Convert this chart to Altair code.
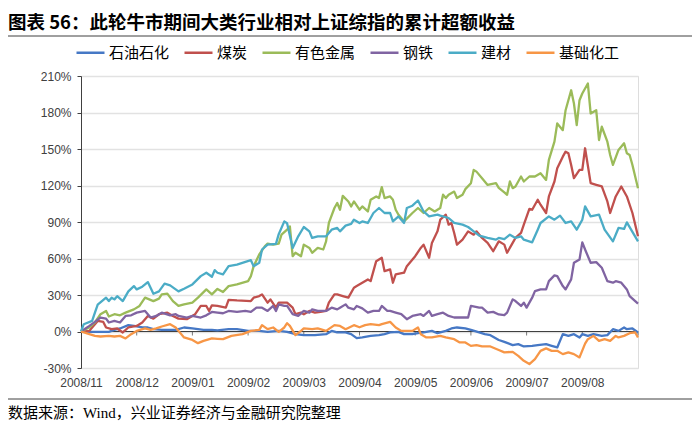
import json
import pandas as pd
import altair as alt

title_text = "图表 56：此轮牛市期间大类行业相对上证综指的累计超额收益"
source_text = "数据来源：Wind，兴业证券经济与金融研究院整理"

series_names = ["石油石化", "煤炭", "有色金属", "钢铁", "建材", "基础化工"]
series_colors = ["#4678C5", "#C0504D", "#9BBB59", "#8064A2", "#4BACC6", "#F79646"]

month_labels = ["2008/11", "2008/12", "2009/01", "2009/02", "2009/03",
                "2009/04", "2009/05", "2009/06", "2009/07", "2009/08"]
label_days = [0, 20, 40, 60, 80, 100, 120, 140, 160, 180]
tick_days = [20, 40, 60, 80, 100, 120, 140, 160, 180, 200]
y_ticks = [-30, 0, 30, 60, 90, 120, 150, 180, 210]

# trading-day index and cumulative excess return (%)
oil_days = [0, 4, 7, 10, 12, 14, 17, 19, 22, 24, 26, 29, 31, 34, 37, 40, 42, 44, 47, 49, 53, 56, 60, 64, 67, 71, 74, 77, 80, 84, 88, 90, 92, 95, 97, 99, 101, 104, 107, 109, 111, 114, 116, 119, 121, 123, 126, 128, 131, 133, 135, 138, 140, 143, 145, 147, 150, 152, 155, 157, 159, 162, 164, 167, 169, 171, 173, 175, 177, 179, 180, 182, 184, 187, 189, 191, 193, 195, 196, 198, 200]
oil_vals = [0, -0.3, -0.3, -0.3, 1.3, 2.5, 5.2, 4.6, 3.3, 3.3, 1.9, 1.3, 1.3, 1.3, 3.3, 2.5, 1.9, 1.3, 1.3, 1.0, 1.9, 1.9, 0.5, 0.5, -0.3, 0.5, -0.3, -2.2, -3, -3, -2.2, 0.5, -0.8, -0.8, -2.2, -5.5, -4.9, -3.6, -3, -2.2, -0.8, -0.3, -2.2, -2.2, -1.4, -0.8, 0.5, -1.4, 0.5, 2.5, 3.3, 2.5, 1.3, -0.8, -2.2, -3, -7.0, -8.5, -11.2, -10.4, -12.3, -11.8, -11.2, -10.4, -11.8, -13.1, -2.2, -3.6, -2.2, -4.9, -2.2, -3.6, -2.2, -3.6, -3, 1.9, 0.5, 3.3, 1.9, 2.5, -0.8]

coal_days = [0, 3, 4, 6, 8, 9, 11, 13, 15, 17, 20, 22, 24, 26, 28, 31, 33, 35, 38, 41, 43, 45, 46, 47, 49, 52, 53, 56, 61, 62, 64, 65, 67, 68, 70, 71, 74, 76, 77, 79, 80, 82, 84, 86, 88, 89, 91, 92, 94, 96, 98, 99, 101, 103, 104, 106, 108, 109, 111, 112, 113, 116, 117, 120, 122, 123, 125, 126, 128, 129, 131, 132, 133, 134, 135, 137, 139, 141, 142, 144, 146, 148, 150, 152, 153, 155, 156, 158, 159, 161, 162, 164, 165, 167, 168, 170, 171, 173, 174, 175, 176, 177, 179, 180, 181, 183, 185, 187, 189, 190, 192, 194, 196, 198, 200]
coal_vals = [0, 0.5, 3.3, 8.7, 7.9, 3.3, 1.9, 2.5, -0.8, 3.3, 4.6, 7.4, 12.8, 10.6, 14.2, 15.5, 12.8, 10.6, 10.1, 14.2, 21, 21, 16.9, 21.5, 21, 19.6, 26, 25.5, 25, 27.8, 29.1, 30.5, 23.7, 26.4, 19.6, 23.7, 23.7, 19.6, 14.2, 15.5, 14.2, 16.9, 15.5, 16.1, 16.9, 23.7, 30.5, 30.5, 29.1, 27.8, 36, 37.3, 40, 42.8, 41.4, 57.8, 60.6, 49.6, 51, 40.1, 46.9, 48.3, 53.7, 61.9, 68.7, 71.4, 60.6, 72.8, 82.3, 91.9, 96, 87.8, 89.2, 81, 71.4, 75.5, 82.3, 79.6, 82.3, 76.9, 72.8, 66, 74.1, 71.4, 64.7, 72.8, 76.9, 81, 87.8, 100.7, 100.1, 108.3, 104.2, 97.4, 111, 123.3, 134.2, 143.7, 147.8, 146.5, 136.9, 126, 132.8, 132.8, 150.6, 121.9, 120.5, 119.2, 106.9, 97.4, 111, 119.2, 111, 97.4, 78.2]

metal_days = [0, 3, 5, 7, 9, 10, 12, 14, 16, 19, 21, 23, 26, 28, 29, 31, 33, 35, 37, 40, 42, 45, 47, 49, 51, 53, 56, 60, 61, 62, 64, 66, 67, 69, 71, 72, 74, 75, 76, 77, 79, 80, 82, 83, 85, 87, 88, 89, 91, 92, 93, 94, 96, 97, 98, 100, 101, 103, 104, 106, 107, 108, 109, 111, 112, 113, 114, 116, 119, 121, 123, 125, 127, 129, 130, 131, 132, 134, 135, 137, 138, 140, 141, 142, 144, 146, 149, 150, 152, 153, 154, 155, 156, 158, 159, 161, 163, 165, 167, 168, 170, 171, 173, 174, 176, 177, 178, 179, 180, 182, 183, 185, 186, 187, 189, 190, 191, 193, 195, 196, 197, 198, 200]
metal_vals = [0, 3.3, 7.4, 14.2, 16.9, 12.3, 14.2, 13.3, 15.5, 18.2, 21, 27.8, 25, 27, 30.5, 31.1, 25, 21, 22.3, 23.7, 27.8, 34.6, 30.5, 35, 32.4, 37.3, 38.7, 41.4, 45.5, 53.7, 63.3, 70, 72.3, 71.4, 72.3, 79.6, 83.7, 86.4, 61.9, 64.7, 61.9, 71.4, 68.7, 64.7, 68.7, 67.4, 74.1, 89.2, 101.5, 105.6, 100.1, 111.5, 106.9, 102.8, 106.9, 100.1, 102.8, 98.7, 108.3, 111, 109.7, 118.7, 109.7, 111, 108.3, 100.1, 96, 90.5, 97.4, 101.5, 97.4, 101.5, 98.7, 101.5, 112.4, 109.7, 112.4, 115, 109.7, 112.4, 117, 121.9, 132.8, 131.4, 126, 120.5, 121.9, 118, 114.3, 112.4, 123.3, 117.8, 119.2, 127.4, 123.3, 127.4, 127.4, 130.1, 124.6, 141, 156, 171, 165.5, 181.9, 198.3, 187.4, 169.7, 190.1, 195.6, 203.8, 179.2, 181.9, 157.4, 168.3, 156, 145.1, 136.9, 149.2, 154.7, 146.5, 145.1, 136.9, 117.8]

steel_days = [0, 3, 5, 7, 9, 10, 12, 14, 16, 18, 20, 23, 25, 27, 29, 32, 34, 35, 38, 40, 43, 45, 47, 49, 51, 53, 56, 59, 61, 63, 65, 67, 69, 70, 71, 73, 74, 76, 78, 80, 82, 83, 85, 88, 90, 92, 93, 95, 96, 98, 99, 101, 103, 105, 107, 108, 110, 111, 113, 115, 117, 119, 122, 123, 125, 126, 128, 130, 132, 134, 137, 139, 140, 143, 144, 146, 148, 150, 152, 153, 155, 156, 158, 159, 160, 162, 163, 165, 167, 168, 170, 171, 173, 174, 176, 177, 179, 180, 181, 183, 185, 187, 189, 191, 192, 194, 196, 197, 200]
steel_vals = [0, 4.6, 7.9, 11.5, 10.6, 7.4, 8.7, 7.4, 12.8, 13.3, 15.5, 16.9, 11.5, 12.8, 15.5, 13.3, 14.2, 12.8, 11.5, 12.8, 11.5, 13.3, 16.1, 15.5, 15, 16.9, 16.1, 16.9, 16.1, 19.6, 19.6, 16.9, 21, 16.9, 22.3, 21, 21, 14.2, 12.8, 16.9, 15.5, 18.2, 16.9, 16.9, 19.6, 18.2, 19.6, 22.3, 19.6, 18.2, 21, 19, 15.5, 16.9, 16.9, 21, 16.9, 16.9, 15.5, 14.2, 10.1, 12.8, 14.2, 12.8, 16.9, 12.8, 14.2, 15.5, 12.8, 11.5, 11.5, 11.5, 21, 19.6, 19.6, 15.5, 16.1, 14, 13.5, 15.5, 26.4, 25, 21, 23.7, 19.6, 27.8, 33.2, 34.6, 34.6, 41.4, 46.1, 45.5, 37.3, 34.6, 42.8, 56.5, 59.2, 73.3, 67.4, 56.5, 57, 52.4, 41.4, 40.1, 41.4, 40.1, 34.6, 29.1, 22.9]

build_days = [0, 1, 4, 5, 6, 9, 10, 11, 12, 13, 15, 17, 19, 20, 22, 24, 26, 28, 30, 32, 35, 37, 40, 43, 45, 47, 48, 49, 51, 53, 56, 61, 62, 64, 65, 67, 70, 71, 73, 74, 76, 78, 80, 82, 83, 85, 88, 90, 92, 93, 95, 97, 98, 100, 101, 103, 105, 107, 109, 111, 112, 114, 116, 117, 119, 121, 123, 125, 128, 129, 132, 134, 137, 139, 141, 143, 146, 149, 150, 152, 154, 156, 158, 159, 162, 164, 165, 168, 170, 172, 174, 176, 178, 180, 181, 183, 186, 188, 191, 193, 195, 196, 200]
build_vals = [0, 6, 8.7, 15.5, 22, 27.8, 25, 27.8, 26.4, 29, 25, 33, 37.3, 34.6, 36.8, 40.6, 31, 33, 39.3, 37.9, 33, 35.2, 38.7, 45.5, 48.3, 45, 50.4, 48.3, 47, 53.7, 55, 58.6, 53.7, 56.5, 67.4, 71.4, 72, 80, 90.5, 89, 68.7, 78.2, 85.9, 82.3, 76.9, 78.2, 78.2, 83.7, 85.1, 82.3, 87, 88.4, 91.9, 89.2, 90.5, 89.2, 97.4, 101.5, 97.4, 97.4, 90.5, 94.6, 89.2, 101.5, 103.4, 107.7, 98.7, 94.6, 96, 95.2, 93.3, 89.2, 87.8, 85.9, 82.3, 78.8, 76.9, 75.5, 76.9, 76, 79.6, 76.9, 78.2, 75.5, 73.3, 83.7, 89.2, 94.6, 91.9, 95.2, 89.2, 90.5, 83.7, 91.9, 102.8, 94.6, 96, 83.7, 74.1, 85.1, 84.3, 89.7, 74.1]

chem_days = [0, 3, 5, 7, 10, 12, 14, 16, 18, 20, 23, 25, 27, 29, 32, 34, 35, 37, 40, 42, 44, 47, 49, 51, 54, 58, 61, 64, 65, 67, 69, 71, 73, 74, 75, 77, 79, 80, 83, 85, 88, 91, 93, 95, 98, 100, 102, 104, 107, 108, 111, 113, 115, 117, 119, 121, 122, 124, 126, 129, 131, 134, 136, 138, 140, 142, 144, 147, 150, 152, 155, 157, 159, 161, 163, 165, 167, 169, 171, 173, 175, 177, 179, 181, 182, 184, 186, 188, 190, 192, 193, 195, 197, 199, 200]
chem_vals = [0, -2.2, -3.6, -4.1, -3.6, -4.1, -3.6, -5.7, -2.2, 0.5, 2.5, 1.3, 2.5, 4.1, 6, 3.3, 0.5, -4.9, -6.9, -9.6, -7.7, -5.7, -6, -6.3, -3.6, -2.2, 0.5, 1.3, 5.2, 1.9, 3.3, -0.3, 3.3, 6.8, 4.6, -3, 0.5, 2.5, 1.9, 2.5, 0.5, 5.2, 4.6, 1.9, 5.2, 3.5, 5.2, 6, 5.2, 6, 7.9, 3.3, 0.5, 0.5, 0.5, 3.3, -2.2, -4.9, -4.9, -3.6, -4.9, -6.3, -9, -9, -11.8, -11.2, -12.3, -12.3, -15.2, -17.2, -16.7, -20, -24.1, -26.8, -22.7, -15.9, -13.9, -15.9, -15.9, -18.6, -17.2, -18.6, -21.3, -10, -6.3, -3.6, -7.7, -6.3, -7.7, -3.6, -4.9, -3.6, -1.4, -0.8, -4.9]

all_days = [oil_days, coal_days, metal_days, steel_days, build_days, chem_days]
all_vals = [oil_vals, coal_vals, metal_vals, steel_vals, build_vals, chem_vals]

rows = []
for name, ds, vs in zip(series_names, all_days, all_vals):
    for d, v in zip(ds, vs):
        rows.append({"series": name, "day": d, "value": v})
df = pd.DataFrame(rows)

AXIS_COLOR = "#404040"
LABEL_FONT = "Liberation Sans"
CJK = "Noto Sans CJK SC"

xscale = alt.Scale(domain=[0, 200], nice=False, zero=False)
yscale = alt.Scale(domain=[-30, 210], nice=False, zero=False)
xaxis = alt.Axis(values=label_days, labelExpr=json.dumps(month_labels) + "[round(datum.value / 20)]",
                 grid=False, domain=False, ticks=False, labelPadding=9, labelFont=LABEL_FONT,
                 labelFontSize=12, labelColor=AXIS_COLOR, title=None, labelFlush=False)
yaxis = alt.Axis(values=y_ticks, labelExpr="datum.value + '%'", grid=True, gridColor="#e2e2e2",
                 gridWidth=1.5, domainColor=AXIS_COLOR, domainWidth=1, tickColor=AXIS_COLOR,
                 tickSize=4, labelFont=LABEL_FONT, labelFontSize=12, labelColor=AXIS_COLOR,
                 labelPadding=6, title=None)


def X(field):
    return alt.X(field, type="quantitative", scale=xscale, axis=xaxis)


def Y(field):
    return alt.Y(field, type="quantitative", scale=yscale, axis=yaxis)


lines = alt.Chart(df).mark_line(strokeWidth=2.3, strokeJoin="round").encode(
    x=X("day"),
    y=Y("value"),
    color=alt.Color("series:N", sort=series_names,
                    scale=alt.Scale(domain=series_names, range=series_colors),
                    legend=alt.Legend(orient="none", legendX=-6, legendY=-39, direction="horizontal",
                                      columns=6, title=None, symbolType="stroke", symbolSize=784,
                                      symbolStrokeWidth=2.5, labelFont=CJK, labelFontSize=15,
                                      labelColor="#000000", columnPadding=9, labelOffset=3)),
    order=alt.Order("day:Q"),
)

zero_df = pd.DataFrame({"x": [0], "x2": [200], "y": [0]})
zero_line = alt.Chart(zero_df).mark_rule(color=AXIS_COLOR, strokeWidth=1).encode(
    x=X("x"), x2="x2", y=Y("y"))

ticks_df = pd.DataFrame({"day": tick_days, "v": [0] * len(tick_days)})
zero_ticks = alt.Chart(ticks_df).mark_tick(orient="vertical", size=4, thickness=1,
                                           color=AXIS_COLOR, yOffset=2).encode(x=X("day"), y=Y("v"))

one = pd.DataFrame({"t": [title_text], "s": [source_text]})
title = alt.Chart(one).mark_text(align="left", baseline="middle", font=CJK, fontWeight="bold",
                                 fontSize=18.5, color="#000000").encode(
    x=alt.value(-73), y=alt.value(-53), text="t:N")
title_rule = alt.Chart(one).mark_rule(color=AXIS_COLOR, strokeWidth=1).encode(
    x=alt.value(-73), x2=alt.value(611), y=alt.value(-40))
source_rule = alt.Chart(one).mark_rule(color=AXIS_COLOR, strokeWidth=1).encode(
    x=alt.value(-73), x2=alt.value(611), y=alt.value(323))
source = alt.Chart(one).mark_text(align="left", baseline="middle",
                                  font="Liberation Serif, " + CJK, fontSize=15,
                                  color="#000000").encode(
    x=alt.value(-73), y=alt.value(337), text="s:N")

chart = alt.layer(zero_line, zero_ticks, lines, title, title_rule, source_rule, source).properties(
    width=557, height=292,
    autosize=alt.AutoSizeParams(type="none"),
    padding={"left": 73, "top": 68, "right": 54, "bottom": 57},
).configure_view(stroke=None).configure(background="#ffffff")

chart.save("out.html", embed_options={"renderer": "svg", "actions": False})
